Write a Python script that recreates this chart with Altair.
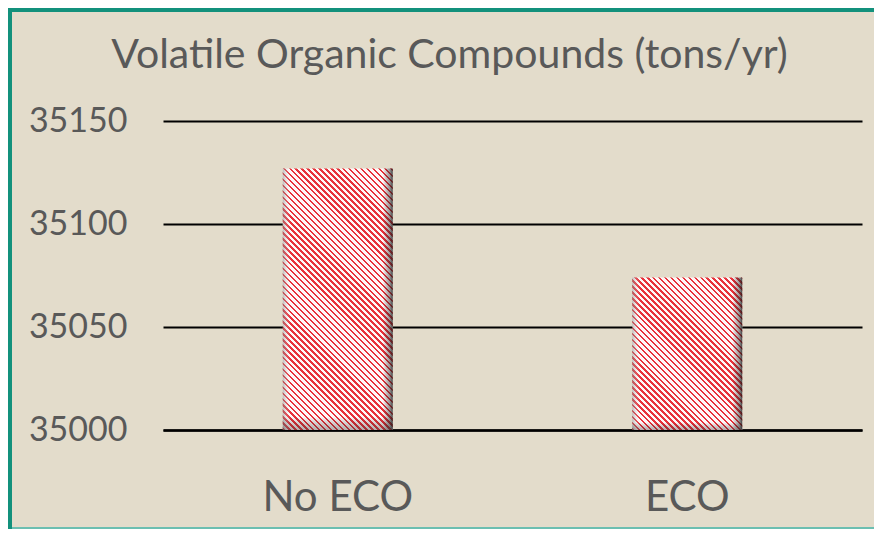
import math
import altair as alt
import pandas as pd

# ---- data ----
categories = ["No ECO", "ECO"]
values = [35127, 35074]
y_ticks = [35000, 35050, 35100, 35150]
title_text = "Volatile Organic Compounds (tons/yr)"

Y_MIN, Y_MAX = 35000, 35150
PLOT_W, PLOT_H = 699, 309
BAR_W = 110
PAD = {"left": 155, "top": 113, "right": 12, "bottom": 99}

BG = "#E3DCCB"
TEAL = "#13917C"
TEXT = "#595959"
FONT = "Lato"

df = pd.DataFrame({"cat": categories, "val": values})


def stripes(w, h, period=4.2, duty=0.42, c1="#E8323B", c2="#FFF8F8"):
    r = h / w
    t = (1 + r) / (1 + r * r)
    x2, y2 = t, 1 - t * r
    n = ((w + h) / math.sqrt(2)) / period
    stops = []
    i = 0
    while i / n < 1:
        o0 = i / n
        o1 = min((i + duty) / n, 1)
        o2 = min((i + 1) / n, 1)
        stops += [alt.GradientStop(color=c1, offset=o0),
                  alt.GradientStop(color=c1, offset=o1),
                  alt.GradientStop(color=c2, offset=o1),
                  alt.GradientStop(color=c2, offset=o2)]
        i += 1
    return alt.LinearGradient(gradient="linear", stops=stops,
                              x1=0, y1=1, x2=x2, y2=y2)


x_enc = alt.X("cat:N", sort=categories,
              scale=alt.Scale(paddingInner=0, paddingOuter=0),
              axis=alt.Axis(title=None, labelAngle=0, labelFontSize=42,
                            labelFont=FONT, labelColor=TEXT, ticks=False,
                            tickSize=0, labelPadding=80,
                            labelBaseline="alphabetic", domain=True,
                            domainColor="#000000", domainWidth=2.5,
                            grid=False))
y_enc = alt.Y("val:Q", scale=alt.Scale(domain=[Y_MIN, Y_MAX], zero=False, nice=False),
              axis=alt.Axis(title=None, values=y_ticks, format="d",
                            labelFontSize=34, labelFont=FONT, labelColor=TEXT,
                            ticks=False, tickSize=0, labelPadding=36,
                            domain=False, grid=True, gridColor="#000000",
                            gridWidth=2, labelBaseline="middle"))

base = alt.Chart(df)
layers = []
for c, v in zip(categories, values):
    h = (v - Y_MIN) * PLOT_H / (Y_MAX - Y_MIN)
    layers.append(
        base.transform_filter(alt.datum.cat == c)
        .mark_bar(size=BAR_W, color=stripes(BAR_W, h))
        .encode(x=x_enc, y=y_enc, y2=alt.datum(Y_MIN))
    )

shade_h = alt.LinearGradient(
    gradient="linear", x1=0, y1=0, x2=1, y2=0,
    stops=[alt.GradientStop(color="rgba(120,120,120,0.5)", offset=0),
           alt.GradientStop(color="rgba(255,255,255,0)", offset=0.07),
           alt.GradientStop(color="rgba(0,0,0,0)", offset=0.91),
           alt.GradientStop(color="rgba(40,40,40,0.45)", offset=0.97),
           alt.GradientStop(color="rgba(20,20,20,0.8)", offset=1)])
shade_v = alt.LinearGradient(
    gradient="linear", x1=0, y1=0, x2=0, y2=1,
    stops=[alt.GradientStop(color="rgba(0,0,0,0)", offset=0),
           alt.GradientStop(color="rgba(0,0,0,0)", offset=0.95),
           alt.GradientStop(color="rgba(60,60,60,0.4)", offset=1)])
layers.append(base.mark_bar(size=BAR_W, color=shade_h)
              .encode(x=x_enc, y=y_enc, y2=alt.datum(Y_MIN)))
layers.append(base.mark_bar(size=BAR_W, color=shade_v)
              .encode(x=x_enc, y=y_enc, y2=alt.datum(Y_MIN)))

# decorative frame (teal border like the reference slide box)
L, T = -PAD["left"], -PAD["top"]
R, B = PLOT_W + PAD["right"], PLOT_H + PAD["bottom"]
frame = alt.Chart(pd.DataFrame({"k": [0]}))
left_band = frame.mark_rect(color=TEAL).encode(
    x=alt.value(L), x2=alt.value(L + 4), y=alt.value(T), y2=alt.value(B))
top_band = frame.mark_rect(color=TEAL).encode(
    x=alt.value(L), x2=alt.value(R), y=alt.value(T), y2=alt.value(T + 4))
bottom_line = frame.mark_rect(color="#6CBFB1").encode(
    x=alt.value(L + 4), x2=alt.value(R), y=alt.value(B - 2), y2=alt.value(B))

chart = alt.layer(*layers, left_band, top_band, bottom_line).properties(
    width=PLOT_W, height=PLOT_H,
    padding=PAD,
    autosize=alt.AutoSizeParams(type="none"),
    title=alt.Title(title_text, fontSize=41, font=FONT, color=TEXT,
                    fontWeight="normal", anchor="middle", frame="group",
                    dx=-63, offset=-101, baseline="alphabetic"),
).configure(background=BG).configure_view(stroke=None)

chart.save("out.html", embed_options={"renderer": "svg", "actions": False})
